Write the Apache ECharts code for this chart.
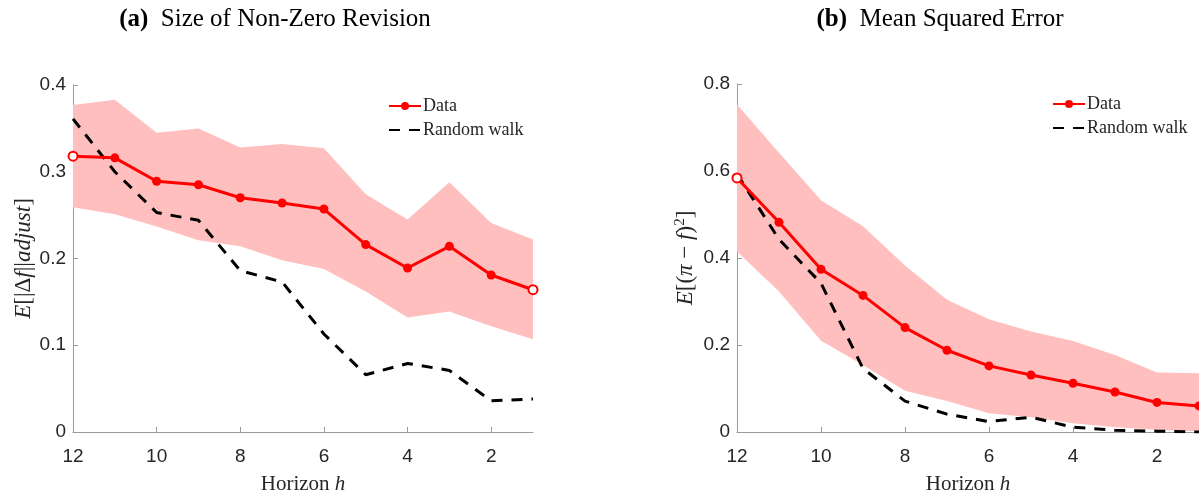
<!DOCTYPE html>
<html>
<head>
<meta charset="utf-8">
<script src="https://cdn.jsdelivr.net/npm/echarts@6/dist/echarts.min.js"></script>
<style>
html,body{margin:0;padding:0;background:#fff;}
#chart{width:1199px;height:500px;}
</style>
</head>
<body>
<div id="chart"></div>
<script>
// Horizon categories (x-axis, 12 down to 1)
var horizons = ['12','11','10','9','8','7','6','5','4','3','2','1'];

// Panel (a): Size of Non-Zero Revision
var aData  = [0.318,0.316,0.289,0.285,0.270,0.264,0.257,0.216,0.189,0.214,0.181,0.164];
var aUpper = [0.377,0.383,0.345,0.350,0.328,0.332,0.327,0.274,0.245,0.288,0.241,0.222];
var aLower = [0.259,0.251,0.237,0.221,0.214,0.198,0.188,0.162,0.132,0.139,0.122,0.107];
var aRW    = [0.361,0.300,0.253,0.244,0.186,0.173,0.113,0.066,0.079,0.071,0.036,0.038];

// Panel (b): Mean Squared Error
var bData  = [0.584,0.482,0.374,0.314,0.240,0.188,0.152,0.131,0.112,0.092,0.068,0.060];
var bUpper = [0.753,0.642,0.533,0.473,0.383,0.304,0.259,0.231,0.209,0.177,0.137,0.135];
var bLower = [0.415,0.323,0.210,0.154,0.095,0.071,0.043,0.034,0.020,0.011,0.005,0.002];
var bRW    = [0.593,0.443,0.342,0.146,0.071,0.041,0.024,0.034,0.011,0.004,0.002,0.000];

var RED = '#ff0000';
var BAND = '#ffbfbf';
var AXC = '#9a9a9a';
var TXT = '#262626';
var SERIF = '"Liberation Serif","DejaVu Serif",serif';
var SANS = 'Helvetica,Arial,"Liberation Sans",sans-serif';

function diff(u,l){ return u.map(function(v,i){ return +(v-l[i]).toFixed(4); }); }

function dataPts(vals, hollowIdx){
  return vals.map(function(v,i){
    if (hollowIdx.indexOf(i) >= 0) {
      return {value:v, itemStyle:{color:'#fff', borderColor:RED, borderWidth:2}};
    }
    return v;
  });
}

function xAxisCfg(gi){
  return {
    type:'category', gridIndex:gi, data:horizons, boundaryGap:false,
    axisLine:{show:true, lineStyle:{color:AXC, width:1}},
    axisTick:{show:true, inside:true, length:5, interval:1, lineStyle:{color:AXC}},
    axisLabel:{interval:1, color:TXT, fontFamily:SANS, fontSize:19, margin:15},
    splitLine:{show:false},
    name:'{n|Horizon }{i|h}', nameLocation:'middle', nameGap:42,
    nameTextStyle:{rich:{
      n:{fontFamily:SERIF, fontSize:21, color:TXT},
      i:{fontFamily:SERIF, fontSize:21, fontStyle:'italic', color:TXT}
    }}
  };
}

function yAxisCfg(gi, max, interval, nameStr, gap){
  return {
    type:'value', gridIndex:gi, min:0, max:max, interval:interval,
    axisLine:{show:true, lineStyle:{color:AXC, width:1}},
    axisTick:{show:true, inside:true, length:5, lineStyle:{color:AXC}},
    axisLabel:{color:TXT, fontFamily:SANS, fontSize:19, margin:7,
      formatter:function(v){ return v===0 ? '0' : String(+v.toFixed(1)); }},
    splitLine:{show:false},
    name:nameStr, nameLocation:'middle', nameGap:gap, nameRotate:90,
    nameTextStyle:{rich:{
      n:{fontFamily:SERIF, fontSize:23, color:TXT},
      i:{fontFamily:SERIF, fontSize:23, fontStyle:'italic', color:TXT},
      s:{fontFamily:SERIF, fontSize:15, color:TXT, verticalAlign:'top', padding:[0,0,10,0]}
    }}
  };
}

function panelSeries(gi, data, upper, lower, rw, hollow, stackName){
  return [
    {type:'line', xAxisIndex:gi, yAxisIndex:gi, data:lower, stack:stackName,
     symbol:'none', lineStyle:{opacity:0}, silent:true, z:1},
    {type:'line', xAxisIndex:gi, yAxisIndex:gi, data:diff(upper,lower), stack:stackName,
     symbol:'none', lineStyle:{opacity:0}, areaStyle:{color:BAND, opacity:1}, silent:true, z:1},
    {type:'line', name:'Data', xAxisIndex:gi, yAxisIndex:gi, data:dataPts(data, hollow),
     symbol:'circle', symbolSize:9, itemStyle:{color:RED}, lineStyle:{color:RED, width:3}, z:4},
    {type:'line', name:'Random walk', xAxisIndex:gi, yAxisIndex:gi, data:rw,
     symbol:'none', itemStyle:{color:'#000'}, lineStyle:{color:'#000', width:3, type:[11,9]}, z:3}
  ];
}

var chart = echarts.init(document.getElementById('chart'), null, {renderer:'canvas'});
var legendText = {fontFamily:SERIF, fontSize:18, color:TXT, padding:[0,0,0,-3]};
function titleStyle(){
  return {rich:{b:{fontFamily:SERIF, fontWeight:'bold', fontSize:25, color:'#000'},
                t:{fontFamily:SERIF, fontWeight:'normal', fontSize:25, color:'#000'}}};
}
var legendData = [
  {name:'Data'},
  {name:'Random walk', itemStyle:{opacity:0}}
];
var option = {
  animation:false,
  backgroundColor:'#fff',
  title:[
    {text:'{b|(a)}{t|  Size of Non-Zero Revision}', left:270, top:2, textAlign:'center',
     textStyle:titleStyle()},
    {text:'{b|(b)}{t|  Mean Squared Error}', left:935, top:2, textAlign:'center',
     textStyle:titleStyle()}
  ],
  legend:[
    {data:legendData, orient:'vertical', left:383, top:92, itemGap:6,
     itemWidth:32, itemHeight:10, textStyle:legendText},
    {data:legendData, orient:'vertical', left:1047, top:90, itemGap:6,
     itemWidth:32, itemHeight:10, textStyle:legendText}
  ],
  grid:[
    {left:73, right:666, top:85, bottom:60, containLabel:false},
    {left:737, right:0, top:84, bottom:62, containLabel:false}
  ],
  xAxis:[xAxisCfg(0), xAxisCfg(1)],
  yAxis:[
    yAxisCfg(0, 0.4, 0.1, '{i|E}{n|[|Δ}{i|f}{n|||}{i|adjust}{n|]}', 38),
    yAxisCfg(1, 0.8, 0.2, '{i|E}{n|[(}{i|π}{n| − }{i|f}{n|)}{s|2}{n|]}', 39)
  ],
  series:[].concat(
    panelSeries(0, aData, aUpper, aLower, aRW, [0,11], 'bandA'),
    panelSeries(1, bData, bUpper, bLower, bRW, [0], 'bandB')
  )
};
chart.setOption(option);
</script>
</body>
</html>
